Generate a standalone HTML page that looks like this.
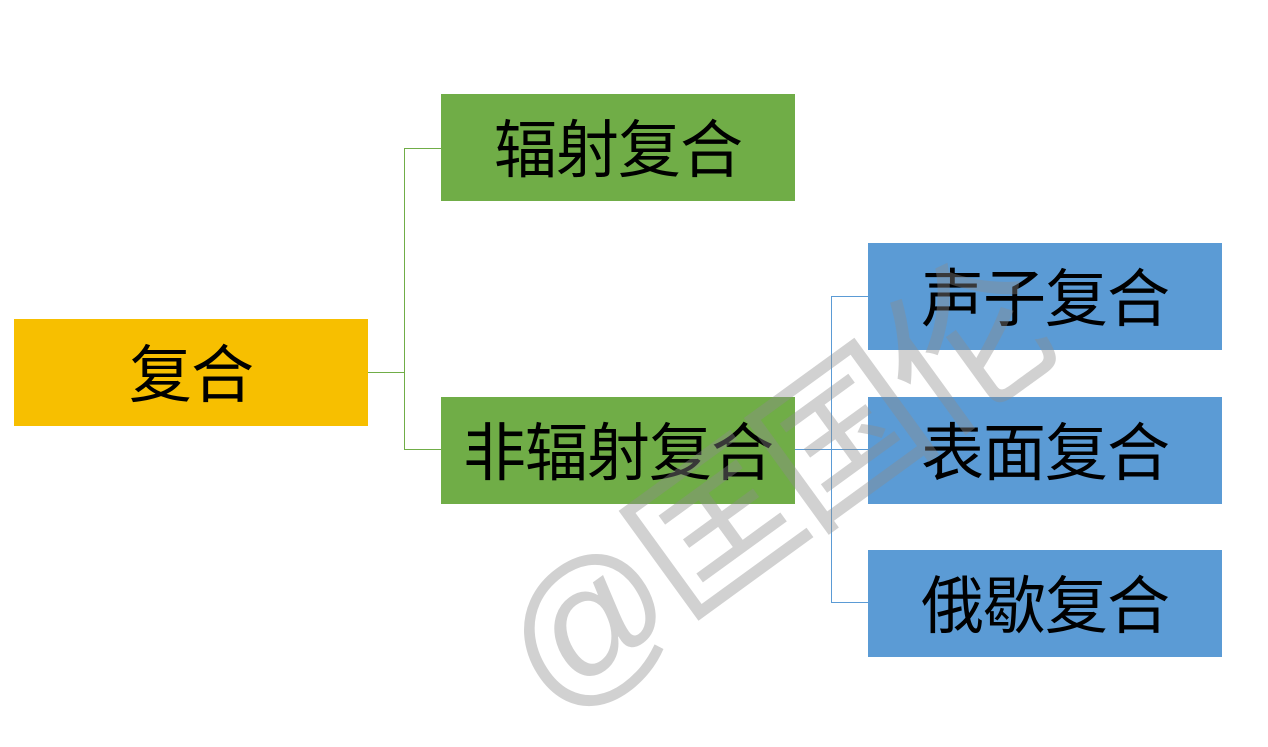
<!DOCTYPE html>
<html><head><meta charset="utf-8"><style>
body{margin:0;width:1268px;height:714px;background:#fff;position:relative;overflow:hidden;font-family:"Liberation Sans","Noto Sans CJK SC",sans-serif}
.b{position:absolute;display:flex;align-items:center;justify-content:center;font-size:63px;color:#000;width:354px;height:107px;letter-spacing:-1px;padding-bottom:4px;box-sizing:border-box}
.y{background:#F7BF00}.g{background:#70AD47}.u{background:#5B9BD5}
.l{position:absolute}
.wm{position:absolute;left:460px;top:405px;font-size:165px;line-height:165px;color:rgba(140,140,140,0.4);transform:rotate(-36deg);transform-origin:center;white-space:nowrap;letter-spacing:-8px;font-family:"Liberation Sans","Noto Sans CJK SC",sans-serif}
</style></head><body>
<div class="l" style="left:368px;top:372px;width:36px;height:1px;background:#70AD47"></div>
<div class="l" style="left:404px;top:148px;width:1px;height:302px;background:#70AD47"></div>
<div class="l" style="left:404px;top:148px;width:37px;height:1px;background:#70AD47"></div>
<div class="l" style="left:404px;top:449px;width:37px;height:1px;background:#70AD47"></div>
<div class="l" style="left:795px;top:449px;width:73px;height:1px;background:#5B9BD5"></div>
<div class="l" style="left:831px;top:296px;width:1px;height:307px;background:#5B9BD5"></div>
<div class="l" style="left:831px;top:296px;width:37px;height:1px;background:#5B9BD5"></div>
<div class="l" style="left:831px;top:602px;width:37px;height:1px;background:#5B9BD5"></div>
<div class="b y" style="left:14px;top:319px">复合</div>
<div class="b g" style="left:441px;top:94px">辐射复合</div>
<div class="b g" style="left:441px;top:397px">非辐射复合</div>
<div class="b u" style="left:868px;top:243px">声子复合</div>
<div class="b u" style="left:868px;top:397px">表面复合</div>
<div class="b u" style="left:868px;top:550px">俄歇复合</div>
<div class="wm">@匡国伦</div>
</body></html>
